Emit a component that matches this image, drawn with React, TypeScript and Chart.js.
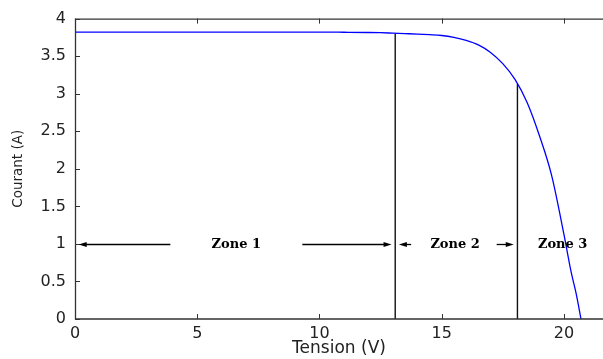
import { useEffect, useRef } from 'react';
import { Chart, registerables } from 'chart.js';

Chart.register(...registerables);

// I-V curve of the PV module
const voltage = [0, 2, 4, 6, 8, 10, 11, 12, 12.5, 13, 13.5, 14, 14.5, 15, 15.5, 16, 16.5, 17, 17.5, 18, 18.5, 19, 19.5, 20, 20.3, 20.5, 20.7];
const current = [3.82, 3.82, 3.82, 3.82, 3.82, 3.82, 3.818, 3.815, 3.812, 3.806, 3.8, 3.794, 3.786, 3.775, 3.75, 3.71, 3.65, 3.55, 3.4, 3.19, 2.88, 2.44, 1.91, 1.13, 0.62, 0.34, 0];

// zone boundaries (vertical lines)
const boundaryV = [13.1, 18.1];
const boundaryI = [3.8, 3.13];

// zone annotations
const zoneLabels = ['Zone 1', 'Zone 2', 'Zone 3'];
const zoneCenters = [6.6, 15.55, 19.95];
const arrowLevel = 1;
const arrowTails = [3.9, 9.3, 13.75, 17.25];
const arrowHeads = [0.15, 12.95, 13.25, 17.95];

// axes
const xMin = 0;
const xMax = 21.6;
const xStep = 5;
const yMin = 0;
const yMax = 4;
const yStep = 0.5;
const xTitle = 'Tension (V)';
const yTitle = 'Courant (A)';

const framePlugin = {
  id: 'framePlugin',
  afterDatasetsDraw(chart: any) {
    const { ctx, chartArea } = chart;
    const xs = chart.scales.x;
    const ys = chart.scales.y;
    const { left, right, top, bottom } = chartArea;
    ctx.save();
    // frame
    ctx.strokeStyle = '#333';
    ctx.lineWidth = 1.3;
    ctx.beginPath();
    ctx.moveTo(right, top + 0.5);
    ctx.lineTo(left + 0.5, top + 0.5);
    ctx.lineTo(left + 0.5, bottom);
    ctx.lineTo(right, bottom);
    ctx.stroke();
    // inward ticks
    ctx.lineWidth = 1;
    ctx.beginPath();
    for (let v = xMin; v <= xMax + 1e-9; v += xStep) {
      const px = Math.round(xs.getPixelForValue(v)) + 0.5;
      ctx.moveTo(px, bottom);
      ctx.lineTo(px, bottom - 5);
      ctx.moveTo(px, top);
      ctx.lineTo(px, top + 5);
    }
    for (let v = yMin; v <= yMax + 1e-9; v += yStep) {
      const py = Math.round(ys.getPixelForValue(v)) + 0.5;
      ctx.moveTo(left, py);
      ctx.lineTo(left + 5, py);
    }
    ctx.stroke();

    // arrows
    const ay = Math.round(ys.getPixelForValue(arrowLevel)) + 0.5;
    ctx.strokeStyle = '#000';
    ctx.fillStyle = '#000';
    ctx.lineWidth = 1.3;
    for (let i = 0; i < arrowTails.length; i++) {
      const tx = xs.getPixelForValue(arrowTails[i]);
      const hx = xs.getPixelForValue(arrowHeads[i]);
      const dir = hx > tx ? 1 : -1;
      ctx.beginPath();
      ctx.moveTo(tx, ay);
      ctx.lineTo(hx - dir * 6, ay);
      ctx.stroke();
      ctx.beginPath();
      ctx.moveTo(hx, ay);
      ctx.lineTo(hx - dir * 8, ay - 2.5);
      ctx.lineTo(hx - dir * 8, ay + 2.5);
      ctx.closePath();
      ctx.fill();
    }
    // zone labels
    ctx.font = 'bold 13px "DejaVu Serif"';
    ctx.textAlign = 'center';
    ctx.textBaseline = 'middle';
    zoneLabels.forEach((lab, i) => {
      ctx.fillText(lab, xs.getPixelForValue(zoneCenters[i]), ay);
    });
    ctx.restore();
  },
};

export default function App() {
  const ref = useRef<HTMLCanvasElement>(null);
  useEffect(() => {
    if (!ref.current) return;
    const curve = voltage.map((v, i) => ({ x: v, y: current[i] }));
    const boundaries = boundaryV.map((v, i) => ({
      type: 'line' as const,
      data: [
        { x: v, y: 0 },
        { x: v, y: boundaryI[i] },
      ],
      borderColor: '#111',
      borderWidth: 1.4,
      pointRadius: 0,
    }));
    const chart = new Chart(ref.current, {
      type: 'line',
      data: {
        datasets: [
          {
            data: curve,
            borderColor: '#0000ff',
            borderWidth: 1.3,
            pointRadius: 0,
            cubicInterpolationMode: 'monotone',
          },
          ...boundaries,
        ],
      },
      options: {
        animation: false,
        responsive: false,
        maintainAspectRatio: false,
        layout: { padding: { top: 14, right: 0, bottom: 0, left: 0 } },
        plugins: { legend: { display: false }, tooltip: { enabled: false } },
        scales: {
          x: {
            type: 'linear',
            min: xMin,
            max: xMax,
            grid: { display: false, drawTicks: false },
            border: { display: false },
            ticks: {
              stepSize: xStep,
              includeBounds: false,
              padding: 5,
              color: '#222',
              font: { family: '"DejaVu Sans"', size: 16 },
              maxRotation: 0,
              callback: (v: any) => String(Number(v)),
            },
            title: {
              display: true,
              text: xTitle,
              color: '#222',
              font: { family: '"DejaVu Sans"', size: 17 },
              padding: 0,
            },
            afterFit(scale: any) {
              scale.height = 40;
            },
          },
          y: {
            type: 'linear',
            min: yMin,
            max: yMax,
            grid: { display: false, drawTicks: false },
            border: { display: false },
            ticks: {
              stepSize: yStep,
              includeBounds: false,
              padding: 9,
              color: '#222',
              font: { family: '"DejaVu Sans"', size: 16 },
              callback: (v: any) => String(Number(v)),
            },
            title: {
              display: true,
              text: yTitle,
              color: '#222',
              font: { family: '"DejaVu Sans"', size: 13.5 },
              padding: { top: 10, bottom: 0 },
            },
            afterFit(scale: any) {
              scale.width = 75;
            },
          },
        },
      },
      plugins: [framePlugin],
    });
    return () => chart.destroy();
  }, []);
  return (
    <div style={{ position: 'fixed', left: 0, top: 0, width: 603, height: 359, background: '#fff' }}>
      <canvas ref={ref} width={603} height={359} style={{ display: 'block' }} />
    </div>
  );
}
